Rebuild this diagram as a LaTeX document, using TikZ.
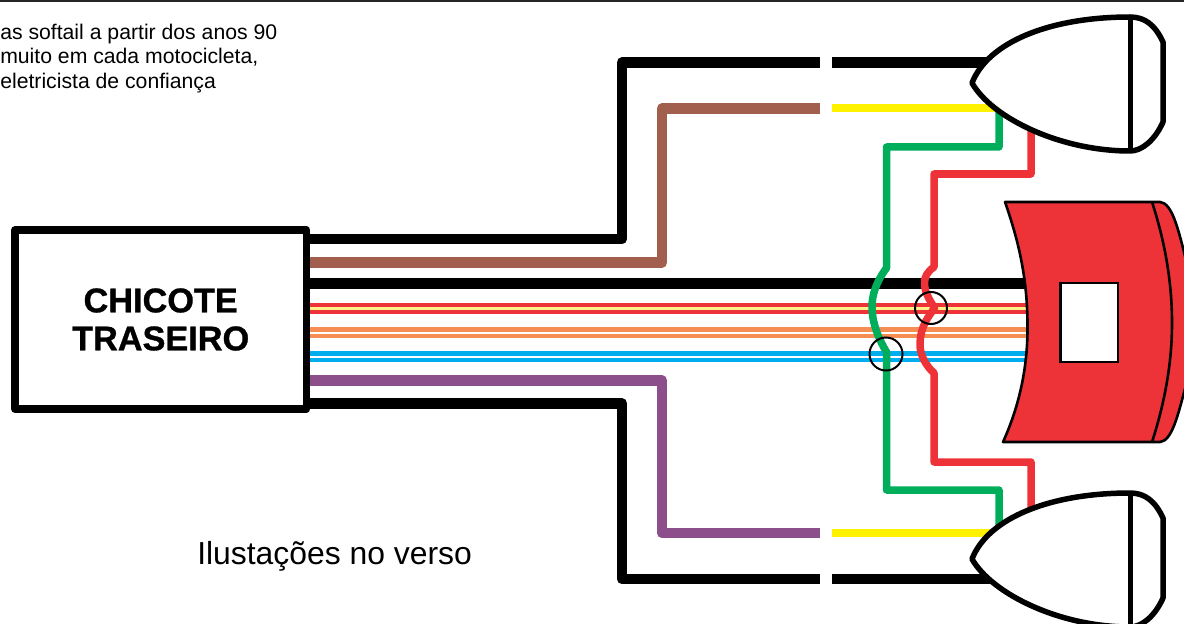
\documentclass[tikz,border=0pt]{standalone}
\usepackage{fontspec}
\setmainfont{Liberation Sans}
\newfontfamily\heavyfont[BoldFeatures={FakeBold=0.9}]{Liberation Sans}
\definecolor{wred}{HTML}{EE3338}
\definecolor{wbrown}{HTML}{A25F4D}
\definecolor{wpurple}{HTML}{8C4F8C}
\definecolor{worange}{HTML}{F68D52}
\definecolor{wblue}{HTML}{00AEEF}
\definecolor{wgreen}{HTML}{00AD5A}
\definecolor{wyellow}{HTML}{FFF200}
\definecolor{wpale}{HTML}{FFF08A}
\newcommand{\px}[1]{#1*0.75pt}
\tikzset{
  wire/.style={line width=\px{#1},line join=round,line cap=butt},
  wire/.default=10.7,
  lampoutline/.style={draw=black,fill=white,line width=\px{5.5},line join=round},
  noteline/.style={anchor=base west,inner sep=0pt,font=\fontsize{15.9pt}{15.9pt}\selectfont},
  loop/.style={draw=black,line width=\px{2}},
}
\begin{document}
\begin{tikzpicture}[x=0.75pt,y=-0.75pt]
\useasboundingbox (0,0) rectangle (1184,624);
\draw[line width=\px{2.2},color=black!85] (0,1) -- (1184,1);
\node[noteline] (n1) at (0,39.5) {as softail a partir dos anos 90};
\node[noteline] (n2) at (0,64) {muito em cada motocicleta,};
\node[noteline] (n3) at (0,89) {eletricista de confiança};
\node[anchor=base west,inner sep=0pt,font=\fontsize{23.9pt}{23.9pt}\selectfont] (n4) at (197,564) {Ilustações no verso};

% connector end points
\coordinate (bx1) at (306,239);
\coordinate (bx2) at (306,262.5);
\coordinate (bx3) at (306,283.5);
\coordinate (bx4) at (306,308.5);
\coordinate (bx5a) at (306,329.5);
\coordinate (bx5b) at (306,336);
\coordinate (bx6a) at (306,353.5);
\coordinate (bx6b) at (306,360);
\coordinate (bx7) at (306,380.5);
\coordinate (bx8) at (306,403.5);
\coordinate (e3) at (1026,283.5);
\coordinate (e4) at (1026,308.5);
\coordinate (e5a) at (1026,329.5);
\coordinate (e5b) at (1026,336);
\coordinate (e6a) at (1026,353.5);
\coordinate (e6b) at (1026,360);
\coordinate (lampA) at (1000,62.5);
\coordinate (lampB) at (1010,108.5);
\coordinate (lampC) at (1000,579);
\coordinate (lampD) at (1010,533);

% upper and lower harness branches
\draw[wire] (bx1) -- (622,239) -- (622,62.5) -- (820,62.5);
\draw[wire] (832,62.5) -- (lampA);
\draw[wire,color=wbrown] (bx2) -- (662,262.5) -- (662,108.5) -- (820,108.5);
\draw[wire=8,color=wyellow] (832,108.5) -- (lampB);
\draw[wire,color=wpurple] (bx7) -- (662,380.5) -- (662,533) -- (820,533);
\draw[wire=8,color=wyellow] (832,533) -- (lampD);
\draw[wire] (bx8) -- (622,403.5) -- (622,579) -- (820,579);
\draw[wire] (832,579) -- (lampC);

% straight harness
\draw[wire] (bx3) -- (e3);
\draw[wire,color=wred] (bx4) -- (e4);
\draw[wire=2.8,color=wpale] (bx4) -- (e4);
\draw[wire=5,color=worange] (bx5a) -- (e5a);
\draw[wire=4,color=worange] (bx5b) -- (e5b);
\draw[wire=5,color=wblue] (bx6a) -- (e6a);
\draw[wire=4,color=wblue] (bx6b) -- (e6b);

% crossing wires
\draw[wire=7.5,color=wgreen] (999,105) -- (999,147) -- (886.5,147) -- (886.5,268)
  .. controls (876,282) and (872,295) .. (872,307)
  .. controls (872,322) and (878,338) .. (886.5,352)
  -- (886.5,490) -- (999,490) -- (999,535);
\draw[wire=7.5,color=wred] (1031,125) -- (1031,174) -- (934,174) -- (934,267)
  .. controls (927,272) and (924.5,277) .. (924.5,283)
  .. controls (924.5,292) and (929,299) .. (934.5,308)
  .. controls (929,316) and (920,326) .. (920,345)
  .. controls (920,355) and (926,366) .. (934,373)
  -- (934,462) -- (1031,462) -- (1031,515);
\node[loop,circle,minimum size=\px{32},inner sep=0pt] (ringA) at (931,308) {};
\node[loop,circle,minimum size=\px{33},inner sep=0pt] (ringB) at (886,354) {};

% fairing
\begin{scope}
\path[clip] (0,0) rectangle (1184,624);
\draw[fill=wred,draw=black,line width=\px{2.6},line join=round]
  (1005,202) -- (1160,202)
  .. controls (1172,203) and (1178,228) .. (1186,260)
  .. controls (1190,300) and (1190,350) .. (1186,385)
  .. controls (1178,415) and (1172,441) .. (1160,442)
  -- (1003,442)
  .. controls (1022,400) and (1028,360) .. (1027.5,323)
  .. controls (1027,280) and (1020,245) .. (1005,202) -- cycle;
\draw[line width=\px{2.6}] (1152,202)
  .. controls (1166,245) and (1172,285) .. (1172,323)
  .. controls (1172,365) and (1164,405) .. (1152,442);
\end{scope}
\node[draw=black,fill=white,line width=\px{2.4},minimum width=\px{57.5},minimum height=\px{79.5},inner sep=0pt] (window) at (1089.3,322.5) {};

% lamps
\draw[lampoutline] (972,83)
  .. controls (988,42) and (1050,17) .. (1130,17)
  .. controls (1145,17) and (1155,25) .. (1163,42)
  -- (1163,122)
  .. controls (1155,140) and (1142,151) .. (1130,151)
  .. controls (1060,151) and (992,118) .. (972,83) -- cycle;
\draw[line width=\px{5}] (1130,17) -- (1130,151);
\draw[lampoutline] (972,559)
  .. controls (988,518) and (1050,493) .. (1130,493)
  .. controls (1145,493) and (1155,501) .. (1163,518)
  -- (1163,598)
  .. controls (1155,616) and (1142,627) .. (1130,627)
  .. controls (1060,627) and (992,594) .. (972,559) -- cycle;
\draw[line width=\px{5}] (1130,493) -- (1130,627);

% control unit
\node[draw=black,fill=white,line width=\px{7.5},line join=round,minimum width=\px{291.5},minimum height=\px{179},inner sep=0pt,align=center,font=\fontsize{25.7pt}{28.5pt}\selectfont\heavyfont\bfseries] (chicote) at (160.7,319.5) {CHICOTE\\TRASEIRO};
\end{tikzpicture}
\end{document}
